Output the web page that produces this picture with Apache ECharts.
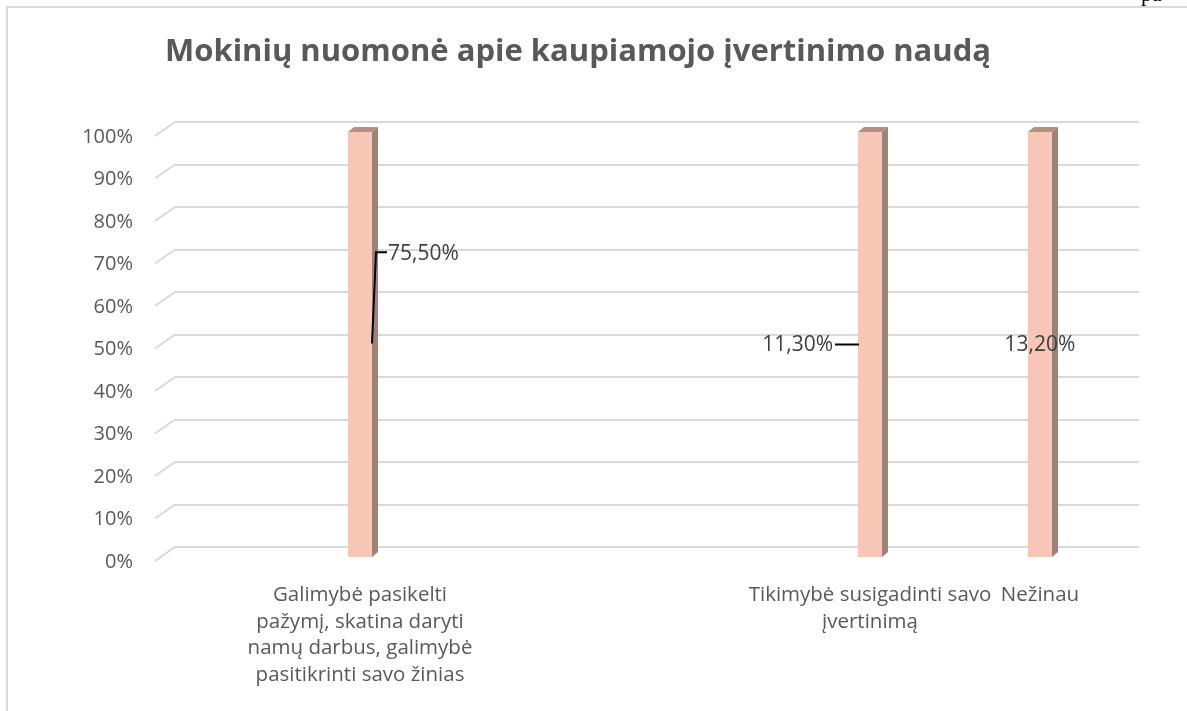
<!DOCTYPE html>
<html>
<head>
<meta charset="utf-8">
<script src="https://cdn.jsdelivr.net/npm/echarts@6/dist/echarts.min.js"></script>
<style>html,body{margin:0;padding:0;background:#fff}#c{width:1187px;height:711px}</style>
</head>
<body>
<div id="c"></div>
<script>
// ---- data ----
const titleText = 'Mokinių nuomonė apie kaupiamojo įvertinimo naudą';
const categories = [
  'Galimybė pasikelti\npažymį, skatina daryti\nnamų darbus, galimybė\npasitikrinti savo žinias',
  '',
  '',
  'Tikimybė susigadinti savo\nįvertinimą',
  'Nežinau'
];
const values = [75.5, null, null, 11.3, 13.2];   // % of respondents
const valueLabels = ['75,50%', '', '', '11,30%', '13,20%'];
const yTicks = [0, 10, 20, 30, 40, 50, 60, 70, 80, 90, 100];

// ---- styles ----
const FONT = '"Open Sans", "Noto Sans", sans-serif';
const C_TEXT = '#595959';
const C_GRID = '#d9d9d9';
const C_FRONT = '#F7C6B6';
const C_SIDE = '#A08274';
const C_TOP = '#B38F82';
// label placement per bar (styling only)
const labelStyle = {
  0: { type: 'up' },
  3: { type: 'left' },
  4: { type: 'center' }
};

// 100% stacked: each category holds one series only, so its share is 100%
const barData = values.map((v, i) => v == null ? null : [i, v / v * 100, i]);

const chart = echarts.init(document.getElementById('c'), null, { renderer: 'canvas' });

function renderBar(params, api) {
  const idx = api.value(2);
  const base = api.coord([api.value(0), 0]);
  const top = api.coord([api.value(0), api.value(1)]);
  const bw = 24, dx = 6, dy = 5;
  const xl = base[0] - bw / 2, xr = base[0] + bw / 2;
  const children = [
    { type: 'rect', shape: { x: xl, y: top[1], width: bw, height: base[1] - top[1] }, style: { fill: C_FRONT } },
    { type: 'polygon', shape: { points: [[xr, top[1]], [xr + dx, top[1] - dy], [xr + dx, base[1] - dy], [xr, base[1]]] }, style: { fill: C_SIDE } },
    { type: 'polygon', shape: { points: [[xl, top[1]], [xl + dx, top[1] - dy], [xr + dx, top[1] - dy], [xr, top[1]]] }, style: { fill: C_TOP } }
  ];
  const midY = (base[1] + top[1]) / 2;
  const ls = labelStyle[idx];
  const txt = valueLabels[idx];
  const tStyle = { text: txt, fill: '#404040', font: '21px ' + FONT, verticalAlign: 'middle' };
  if (ls.type === 'up') {
    const ly = api.coord([0, values[idx] * 0.95])[1];
    children.push({ type: 'polyline', shape: { points: [[xr, midY - 1], [xr + 4, ly], [xr + 15, ly]] }, style: { stroke: '#000', lineWidth: 2, fill: null } });
    children.push({ type: 'text', x: xr + 16, y: ly + 2, style: Object.assign({}, tStyle, { align: 'left' }) });
  } else if (ls.type === 'left') {
    children.push({ type: 'line', shape: { x1: xl - 23, y1: midY, x2: xl + 1, y2: midY }, style: { stroke: '#000', lineWidth: 2 } });
    children.push({ type: 'text', x: xl - 25, y: midY + 1, style: Object.assign({}, tStyle, { align: 'right' }) });
  } else {
    children.push({ type: 'text', x: base[0], y: midY + 1, style: Object.assign({}, tStyle, { align: 'center' }) });
  }
  return { type: 'group', children };
}

function renderDiag(params, api) {
  const p = api.coord([0, api.value(0)]);
  return { type: 'line', shape: { x1: p[0], y1: p[1], x2: p[0] - 20, y2: p[1] + 14 }, style: { stroke: C_GRID, lineWidth: 2 } };
}

const option = {
  backgroundColor: '#fff',
  animation: false,
  title: {
    text: titleText,
    left: 160, top: 32,
    textStyle: { fontFamily: FONT, fontSize: 31, fontWeight: 'bold', color: C_TEXT }
  },
  graphic: [
    { type: 'rect', z: -10, shape: { x: 7, y: 7, width: 1400, height: 900 }, style: { fill: null, stroke: C_GRID, lineWidth: 2 } },
    { type: 'text', left: 1141, top: -16, style: { text: 'pa', font: '22px "Liberation Serif", serif', fill: '#000' } }
  ],
  grid: [
    { left: 157, right: 49, top: 137, height: 425 },   // y labels (front)
    { left: 175, right: 48, top: 122, height: 425 },   // gridlines (back wall)
    { left: 275, width: 850, top: 132, height: 425 }   // bars
  ],
  xAxis: [
    { gridIndex: 0, type: 'value', show: false, min: 0, max: 1 },
    { gridIndex: 1, type: 'value', show: false, min: 0, max: 1 },
    {
      gridIndex: 2, type: 'category', data: categories, boundaryGap: true,
      axisLine: { show: false }, axisTick: { show: false },
      axisLabel: { interval: 0, margin: 25, color: C_TEXT, fontFamily: FONT, fontSize: 20.5, lineHeight: 26.5, align: 'center' }
    }
  ],
  yAxis: [
    {
      gridIndex: 0, type: 'value', min: 0, max: 100, interval: 10,
      axisLine: { show: false }, axisTick: { show: false }, splitLine: { show: false },
      axisLabel: { formatter: '{value}%', margin: 24, color: C_TEXT, fontFamily: FONT, fontSize: 20 }
    },
    {
      gridIndex: 1, type: 'value', min: 0, max: 100, interval: 10,
      axisLine: { show: false }, axisTick: { show: false }, axisLabel: { show: false },
      splitLine: { show: true, lineStyle: { color: C_GRID, width: 2 } }
    },
    { gridIndex: 2, type: 'value', min: 0, max: 100, show: false }
  ],
  series: [
    { type: 'custom', xAxisIndex: 1, yAxisIndex: 1, data: yTicks.map(v => [v]), renderItem: renderDiag, silent: true },
    { type: 'custom', xAxisIndex: 2, yAxisIndex: 2, data: barData.filter(d => d), renderItem: renderBar, encode: { x: 0, y: 1 } }
  ]
};
chart.setOption(option);
</script>
</body>
</html>
